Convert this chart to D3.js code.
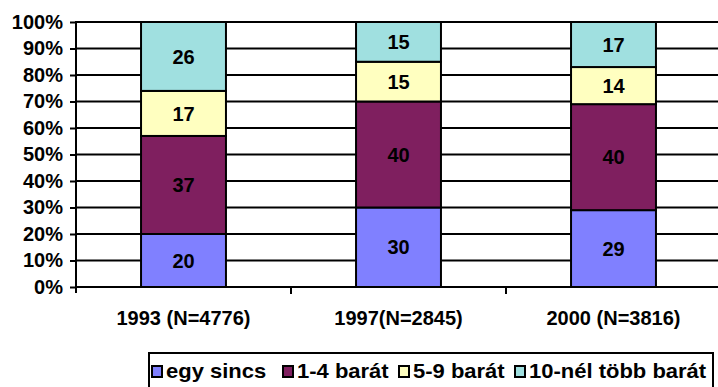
<!DOCTYPE html>
<html>
<head>
<meta charset="utf-8">
<script src="https://cdn.jsdelivr.net/npm/d3@7"></script>
<style>
  html, body { margin: 0; padding: 0; background: #fff; }
  svg { display: block; }
  text { font-family: Arial, "Liberation Sans", sans-serif; font-weight: bold; fill: #000; }
</style>
</head>
<body>
<svg id="chart" width="718" height="387"></svg>
<script>
// Survey waves and the share of respondents by number of friends (%)
const categories = ["1993 (N=4776)", "1997(N=2845)", "2000 (N=3816)"];
const seriesNames = ["egy sincs", "1-4 barát", "5-9 barát", "10-nél több barát"];
const egySincs = [20, 30, 29];
const egyNegy = [37, 40, 40];
const otKilenc = [17, 15, 14];
const tizFelett = [26, 15, 17];
const yTicks = [0, 10, 20, 30, 40, 50, 60, 70, 80, 90, 100];
const colors = ["#8080ff", "#7f1f5f", "#ffffc0", "#a0e0e0"];

const seriesValues = [egySincs, egyNegy, otKilenc, tizFelett];
const rows = categories.map((c, i) => {
  const r = { cat: c };
  seriesNames.forEach((s, k) => { r[s] = seriesValues[k][i]; });
  return r;
});

const svg = d3.select("#chart");
const plotLeft = 76, plotRight = 721, plotTop = 22, plotBottom = 287;

const x = d3.scaleBand().domain(categories).range([plotLeft, plotRight])
  .paddingInner(0.605).paddingOuter(0.3025);
const y = d3.scaleLinear().domain([0, 100]).range([plotBottom, plotTop]);

// horizontal gridlines
svg.append("g").selectAll("line").data(yTicks).join("line")
  .attr("x1", plotLeft).attr("x2", plotRight)
  .attr("y1", d => y(d)).attr("y2", d => y(d))
  .attr("stroke", "#000").attr("stroke-width", 2);

// stacked bars
const stack = d3.stack().keys(seriesNames)(rows);
const layers = svg.append("g").selectAll("g").data(stack).join("g")
  .attr("fill", (d, i) => colors[i]);
layers.selectAll("rect").data(d => d).join("rect")
  .attr("x", d => x(d.data.cat))
  .attr("width", x.bandwidth())
  .attr("y", d => y(d[1]))
  .attr("height", d => y(d[0]) - y(d[1]))
  .attr("stroke", "#000").attr("stroke-width", 2);

// value labels
layers.selectAll("text").data((d) => d.map(v => ({ v, key: d.key }))).join("text")
  .attr("x", d => x(d.v.data.cat) + x.bandwidth() / 2)
  .attr("y", d => y((d.v[0] + d.v[1]) / 2))
  .attr("dy", "0.36em")
  .attr("text-anchor", "middle")
  .attr("font-size", 20)
  .attr("fill", "#000")
  .text(d => d.v.data[d.key]);

// y axis
const yAxis = d3.axisLeft(y).tickValues(yTicks).tickSize(6).tickPadding(7)
  .tickFormat(d => d + "%");
const gy = svg.append("g").attr("transform", `translate(${plotLeft},0)`).call(yAxis);
gy.select(".domain").remove();
gy.selectAll(".tick line").attr("stroke", "#000").attr("stroke-width", 2);
gy.selectAll(".tick text").attr("font-size", 20).attr("font-family", null).attr("fill", "#000");
svg.append("line").attr("x1", plotLeft).attr("x2", plotLeft)
  .attr("y1", plotTop - 1).attr("y2", plotBottom + 6)
  .attr("stroke", "#000").attr("stroke-width", 2);

// x axis: tick marks between categories
const boundaries = categories.slice(1).map(c => x(c) - x.step() * x.paddingInner() / 2);
svg.append("g").selectAll("line").data(boundaries).join("line")
  .attr("x1", d => d).attr("x2", d => d)
  .attr("y1", plotBottom).attr("y2", plotBottom + 7)
  .attr("stroke", "#000").attr("stroke-width", 2);
svg.append("g").selectAll("text").data(categories).join("text")
  .attr("x", d => x(d) + x.bandwidth() / 2)
  .attr("y", 325)
  .attr("text-anchor", "middle")
  .attr("font-size", 20)
  .text(d => d);

// legend
const lg = svg.append("g");
lg.append("rect").attr("x", 149).attr("y", 353).attr("width", 564).attr("height", 40)
  .attr("fill", "#fff").attr("stroke", "#000").attr("stroke-width", 2);
const legendX = [152, 283, 399, 515];
const items = lg.selectAll("g.item").data(seriesNames).join("g").attr("class", "item")
  .attr("transform", (d, i) => `translate(${legendX[i]},0)`);
items.append("rect").attr("x", 0).attr("y", 366).attr("width", 10).attr("height", 11)
  .attr("fill", (d, i) => colors[i]).attr("stroke", "#000").attr("stroke-width", 2);
// legend labels are set slightly wider than the axis text
items.append("text")
  .attr("transform", "translate(14,378) scale(1.1,1)")
  .attr("font-size", 20).text(d => d);
</script>
</body>
</html>
